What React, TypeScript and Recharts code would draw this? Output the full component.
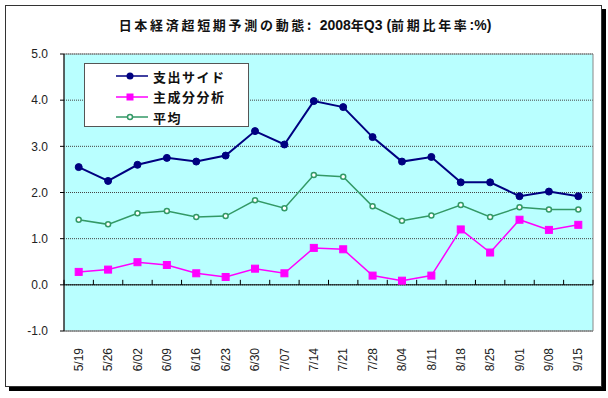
import React from "react";
import { LineChart, Line, XAxis, YAxis, CartesianGrid, ReferenceLine, ReferenceArea } from "recharts";

const dates = ["5/19", "5/26", "6/02", "6/09", "6/16", "6/23", "6/30", "7/07", "7/14", "7/21", "7/28", "8/04", "8/11", "8/18", "8/25", "9/01", "9/08", "9/15"];
const spendingSide = [2.55, 2.25, 2.6, 2.75, 2.67, 2.8, 3.33, 3.04, 3.98, 3.85, 3.2, 2.67, 2.77, 2.22, 2.22, 1.92, 2.02, 1.92];
const principalComp = [0.28, 0.33, 0.49, 0.43, 0.25, 0.17, 0.35, 0.25, 0.8, 0.77, 0.2, 0.09, 0.2, 1.2, 0.7, 1.41, 1.19, 1.3];
const average = [1.41, 1.31, 1.55, 1.6, 1.47, 1.49, 1.83, 1.66, 2.38, 2.34, 1.7, 1.39, 1.5, 1.73, 1.47, 1.68, 1.63, 1.63];
const yTicks = [-1, 0, 1, 2, 3, 4, 5];

const data = dates.map((date, i) => ({
  date,
  spend: spendingSide[i],
  pca: principalComp[i],
  avg: average[i],
}));

const LATIN = "'Liberation Sans', Arial, sans-serif";
const JP = "'Noto Sans CJK JP', 'Liberation Sans', sans-serif";

const NAVY = "#000080";
const MAGENTA = "#ff00ff";
const GREEN = "#339966";

// eslint-disable-next-line @typescript-eslint/no-explicit-any
const XTick = ({ x, y, payload }: any) => (
  <text
    x={x} y={y + 2} dy="0.35em"
    transform={`rotate(-90 ${x} ${y + 2})`}
    textAnchor="end" fontSize={12} fill="#222" fontFamily={LATIN}
  >
    {payload.value}
  </text>
);

// eslint-disable-next-line @typescript-eslint/no-explicit-any
const SquareDot = ({ cx, cy, index }: any) => (
  <rect key={index} x={cx - 3.5} y={cy - 3.5} width={7} height={7} fill={MAGENTA} stroke={MAGENTA} />
);

// zero line with small ticks at category boundaries
// eslint-disable-next-line @typescript-eslint/no-explicit-any
const ZeroLine = ({ x1, y1, x2 }: any) => {
  const n = dates.length;
  const step = (x2 - x1) / n;
  return (
    <g>
      <line x1={x1} y1={y1} x2={x2} y2={y1} stroke="#000" strokeWidth={1} />
      {Array.from({ length: n + 1 }, (_, i) => (
        <line key={i} x1={x1 + i * step} y1={y1} x2={x1 + i * step} y2={y1 - 5} stroke="#000" strokeWidth={1} />
      ))}
    </g>
  );
};

const legendItems = [
  { label: "支出サイド", color: NAVY, marker: "dot" },
  { label: "主成分分析", color: MAGENTA, marker: "square" },
  { label: "平均", color: GREEN, marker: "ring" },
];

export default function App() {
  return (
    <div style={{ position: "absolute", left: 0, top: 0, width: 608, height: 398, background: "#fff" }}>
      {/* frame */}
      <div style={{
        position: "absolute", left: 5, top: 5, width: 597, height: 382,
        boxSizing: "border-box", border: "1px solid #333", background: "#fff",
        boxShadow: "4px 4px 0 #000",
      }} />

      {/* title */}
      <div style={{
        position: "absolute", left: 0, top: 16, width: 610, textAlign: "center",
        fontSize: 13, fontWeight: "bold", color: "#111", whiteSpace: "nowrap", lineHeight: "18px",
      }}>
        <span style={{ fontFamily: JP, letterSpacing: 2.7 }}>日本経済超短期予測の動態: </span>
        <span style={{ fontFamily: LATIN, fontSize: 14 }}>2008</span>
        <span style={{ fontFamily: JP }}>年</span>
        <span style={{ fontFamily: LATIN, fontSize: 14 }}>Q3 (</span>
        <span style={{ fontFamily: JP, letterSpacing: 2.7 }}>前期比年率</span>
        <span style={{ fontFamily: LATIN, fontSize: 14 }}>:%)</span>
      </div>

      <div style={{ position: "absolute", left: 0, top: 0 }}>
        <LineChart width={608} height={398} data={data} margin={{ top: 54, right: 15, bottom: 12, left: 0 }}>
          <CartesianGrid vertical={false} stroke="#444" strokeDasharray="1 1" fill="#b9ffff" fillOpacity={1} />
          <ReferenceArea y1={-1} y2={5} fill="none" stroke="#888" strokeWidth={1} />
          <XAxis
            dataKey="date" scale="band" height={55} interval={0}
            tickLine={false} tickSize={0} tickMargin={15}
            axisLine={{ stroke: "#888" }} tick={<XTick />}
          />
          <YAxis
            type="number" domain={[-1, 5]} ticks={yTicks} width={64}
            tickFormatter={(v: number) => v.toFixed(1)}
            axisLine={{ stroke: "#000" }} tickLine={{ stroke: "#000" }}
            tickSize={4} tickMargin={12}
            tick={{ fontSize: 12, fill: "#222", fontFamily: LATIN }}
          />
          <ReferenceLine y={0} shape={<ZeroLine />} />
          <Line dataKey="avg" stroke={GREEN} strokeWidth={1.5} isAnimationActive={false}
            dot={{ r: 2.5, fill: "#fff", stroke: GREEN, strokeWidth: 1.5 }} />
          <Line dataKey="pca" stroke={MAGENTA} strokeWidth={1.5} isAnimationActive={false}
            dot={<SquareDot />} />
          <Line dataKey="spend" stroke={NAVY} strokeWidth={2} isAnimationActive={false}
            dot={{ r: 3.5, fill: NAVY, stroke: NAVY, strokeWidth: 1 }} />
        </LineChart>
      </div>

      {/* legend */}
      <div style={{
        position: "absolute", left: 84, top: 63, width: 165, height: 64,
        boxSizing: "border-box", border: "1px solid #555", background: "#fff",
      }}>
        {legendItems.map((item, i) => (
          <div key={item.label} style={{ position: "absolute", left: 30, top: 3 + i * 20.5, height: 18, display: "flex", alignItems: "center" }}>
            <svg width={34} height={10}>
              <line x1={1} y1={5} x2={33} y2={5} stroke={item.color} strokeWidth={1.5} />
              {item.marker === "dot" && <circle cx={15} cy={5} r={3.5} fill={item.color} />}
              {item.marker === "square" && <rect x={11.5} y={1.5} width={7} height={7} fill={item.color} />}
              {item.marker === "ring" && <circle cx={15} cy={5} r={2.5} fill="#fff" stroke={item.color} strokeWidth={1.5} />}
            </svg>
            <span style={{ marginLeft: 4, fontFamily: JP, fontSize: 13, fontWeight: "bold", letterSpacing: 1.5, color: "#111" }}>
              {item.label}
            </span>
          </div>
        ))}
      </div>
    </div>
  );
}
